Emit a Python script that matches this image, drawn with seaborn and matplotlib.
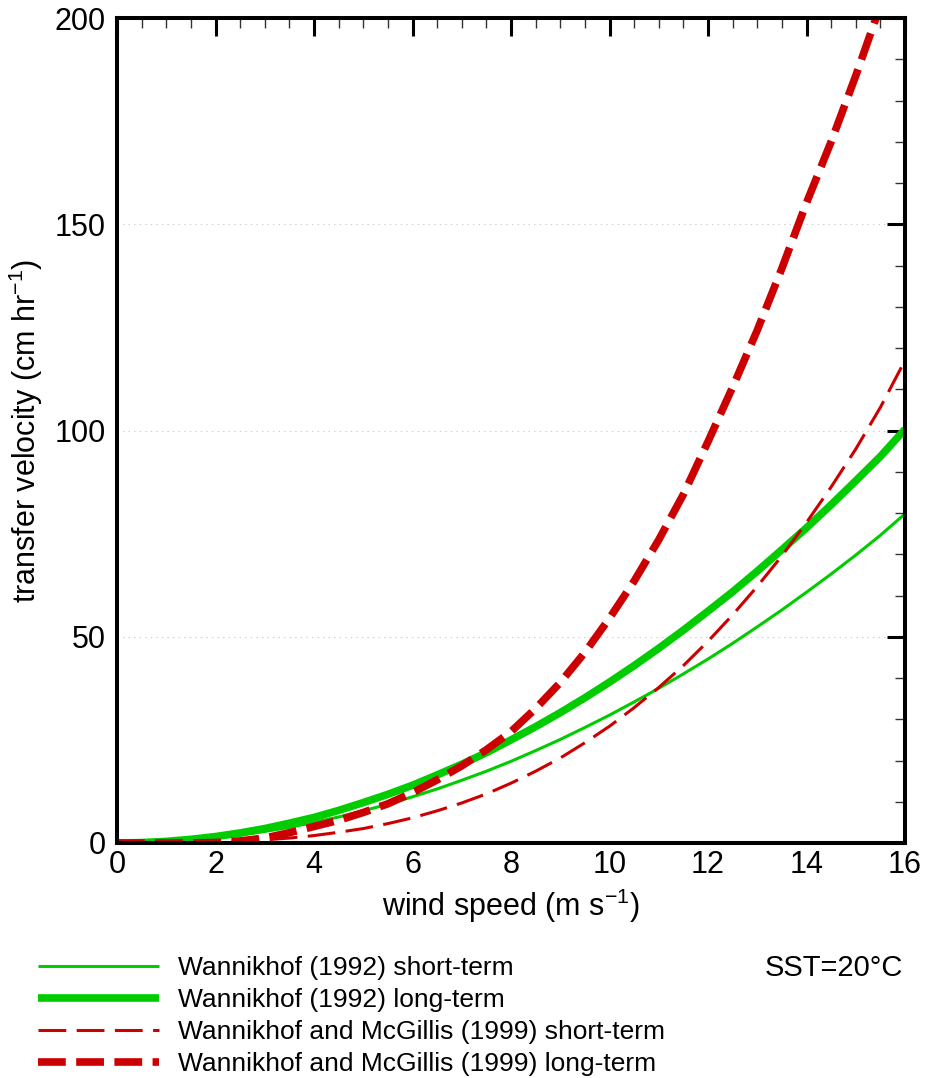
import matplotlib
matplotlib.use("Agg")
import matplotlib.pyplot as plt
import seaborn as sns
import numpy as np
import pandas as pd

# ---- data ----
wind_speed = [0.0, 0.5, 1.0, 1.5, 2.0, 2.5, 3.0, 3.5, 4.0, 4.5, 5.0, 5.5, 6.0, 6.5,
              7.0, 7.5, 8.0, 8.5, 9.0, 9.5, 10.0, 10.5, 11.0, 11.5, 12.0, 12.5,
              13.0, 13.5, 14.0, 14.5, 15.0, 15.5, 16.0]

w92_short = [0.0, 0.08, 0.31, 0.7, 1.24, 1.9, 2.8, 3.8, 5.0, 6.3, 7.8, 9.4, 11.2, 13.1,
             15.2, 17.4, 19.8, 22.4, 25.1, 28.0, 31.0, 34.2, 37.5, 41.0, 44.6, 48.4,
             52.4, 56.5, 60.8, 65.2, 69.8, 74.6, 79.8]

w92_long = [0.0, 0.1, 0.39, 0.88, 1.56, 2.44, 3.5, 4.8, 6.2, 7.9, 9.8, 11.8, 14.0, 16.5,
            19.1, 21.9, 25.0, 28.2, 31.6, 35.2, 39.0, 43.0, 47.2, 51.6, 56.2, 60.9,
            65.9, 71.1, 76.4, 82.0, 87.8, 93.7, 100.3]

wm99_short = [0.0, 0.0, 0.03, 0.1, 0.23, 0.44, 0.77, 1.2, 1.8, 2.6, 3.5, 4.7, 6.1, 7.8,
              9.7, 11.9, 14.5, 17.4, 20.6, 24.3, 28.3, 32.8, 37.7, 43.0, 48.9, 55.3,
              62.2, 69.6, 77.7, 86.3, 95.5, 105.6, 117.0]

wm99_long = [0.0, 0.0, 0.0, 0.0, 0.1, 0.5, 1.2, 2.5, 4.0, 5.5, 7.4, 9.5, 12.2, 15.3,
             18.7, 22.6, 27.0, 32.6, 38.9, 46.2, 54.5, 63.5, 73.5, 84.5, 97.3, 110.5,
             124.3, 139.3, 155.2, 170.0, 186.0, 203.0, 221.0]

labels = ["Wannikhof (1992) short-term",
          "Wannikhof (1992) long-term",
          "Wannikhof and McGillis (1999) short-term",
          "Wannikhof and McGillis (1999) long-term"]

x_ticks = [0, 2, 4, 6, 8, 10, 12, 14, 16]
y_ticks = [0, 50, 100, 150, 200]

# ---- style ----
sns.set_style("white")
plt.rcParams['font.family'] = ['Liberation Sans', 'DejaVu Sans']
plt.rcParams['mathtext.fontset'] = 'custom'
plt.rcParams['mathtext.rm'] = 'Liberation Sans'
plt.rcParams['mathtext.it'] = 'Liberation Sans:italic'
plt.rcParams['lines.scale_dashes'] = False
for k in ['text.color', 'axes.labelcolor', 'xtick.color', 'ytick.color']:
    plt.rcParams[k] = 'black'
plt.rcParams['lines.solid_capstyle'] = 'butt'
plt.rcParams['lines.dash_capstyle'] = 'butt'

GREEN = "#00CC00"
RED = "#CC0000"

fig = plt.figure(figsize=(9.26, 10.78), dpi=100)
ax = fig.add_axes([117/926, 1-843/1078, (905-117)/926, (843-18)/1078])

common = dict(solid_capstyle='butt', dash_capstyle='butt')
sns.lineplot(x=wind_speed, y=w92_short, ax=ax, color=GREEN, linewidth=2.2,
             label=labels[0], zorder=3, **common)
sns.lineplot(x=wind_speed, y=w92_long, ax=ax, color=GREEN, linewidth=5.5,
             label=labels[1], zorder=3, **common)
sns.lineplot(x=wind_speed, y=wm99_short, ax=ax, color=RED, linewidth=2.2,
             linestyle=(0, (20, 7.5)), label=labels[2], zorder=4, **common)
sns.lineplot(x=wind_speed, y=wm99_long, ax=ax, color=RED, linewidth=5.5,
             linestyle=(0, (20, 7.5)), label=labels[3], zorder=4, **common)

ax.set_xlim(0, 16)
ax.set_ylim(0, 200)
ax.set_xticks(x_ticks)
ax.set_yticks(y_ticks)
ax.set_xticks(np.arange(0, 16.01, 0.5), minor=True)
ax.set_yticks(np.arange(0, 200.01, 10), minor=True)

ax.tick_params(which='major', direction='in', length=13, width=2.2, color='black',
               top=True, right=True, labelsize=22, pad=5, labelcolor='black')
ax.tick_params(axis='y', which='major', pad=8)
ax.tick_params(which='minor', direction='in', length=7, width=1.0, color='#333333',
               top=True, right=True)

for sp in ax.spines.values():
    sp.set_linewidth(2.9)
    sp.set_color('black')
    sp.set_zorder(5)

ax.yaxis.grid(True, which='major', color='#cccccc', linestyle=(0, (1, 3)), linewidth=0.8)
ax.xaxis.grid(False)
ax.set_axisbelow(True)

ax.set_xlabel(r"wind speed (m s$^{\mathrm{-1}}$)", fontsize=22, labelpad=5, color='black')
ax.set_ylabel(r"transfer velocity (cm hr$^{\mathrm{-1}}$)", fontsize=22, labelpad=7, color='black')

handles, lbls = ax.get_legend_handles_labels()
ax.get_legend().remove()
leg = fig.legend(handles, lbls, loc='upper left', bbox_to_anchor=(38/926, 1-956/1078),
                 frameon=False, fontsize=19, handlelength=4.6, handletextpad=0.7,
                 labelspacing=0.3, borderpad=0, borderaxespad=0)
for t in leg.get_texts():
    t.set_color('black')

fig.text(903/926, 1-968/1078, "SST=20°C", fontsize=21, ha='right', va='center', color='black')

fig.savefig("out.png", dpi=100)
